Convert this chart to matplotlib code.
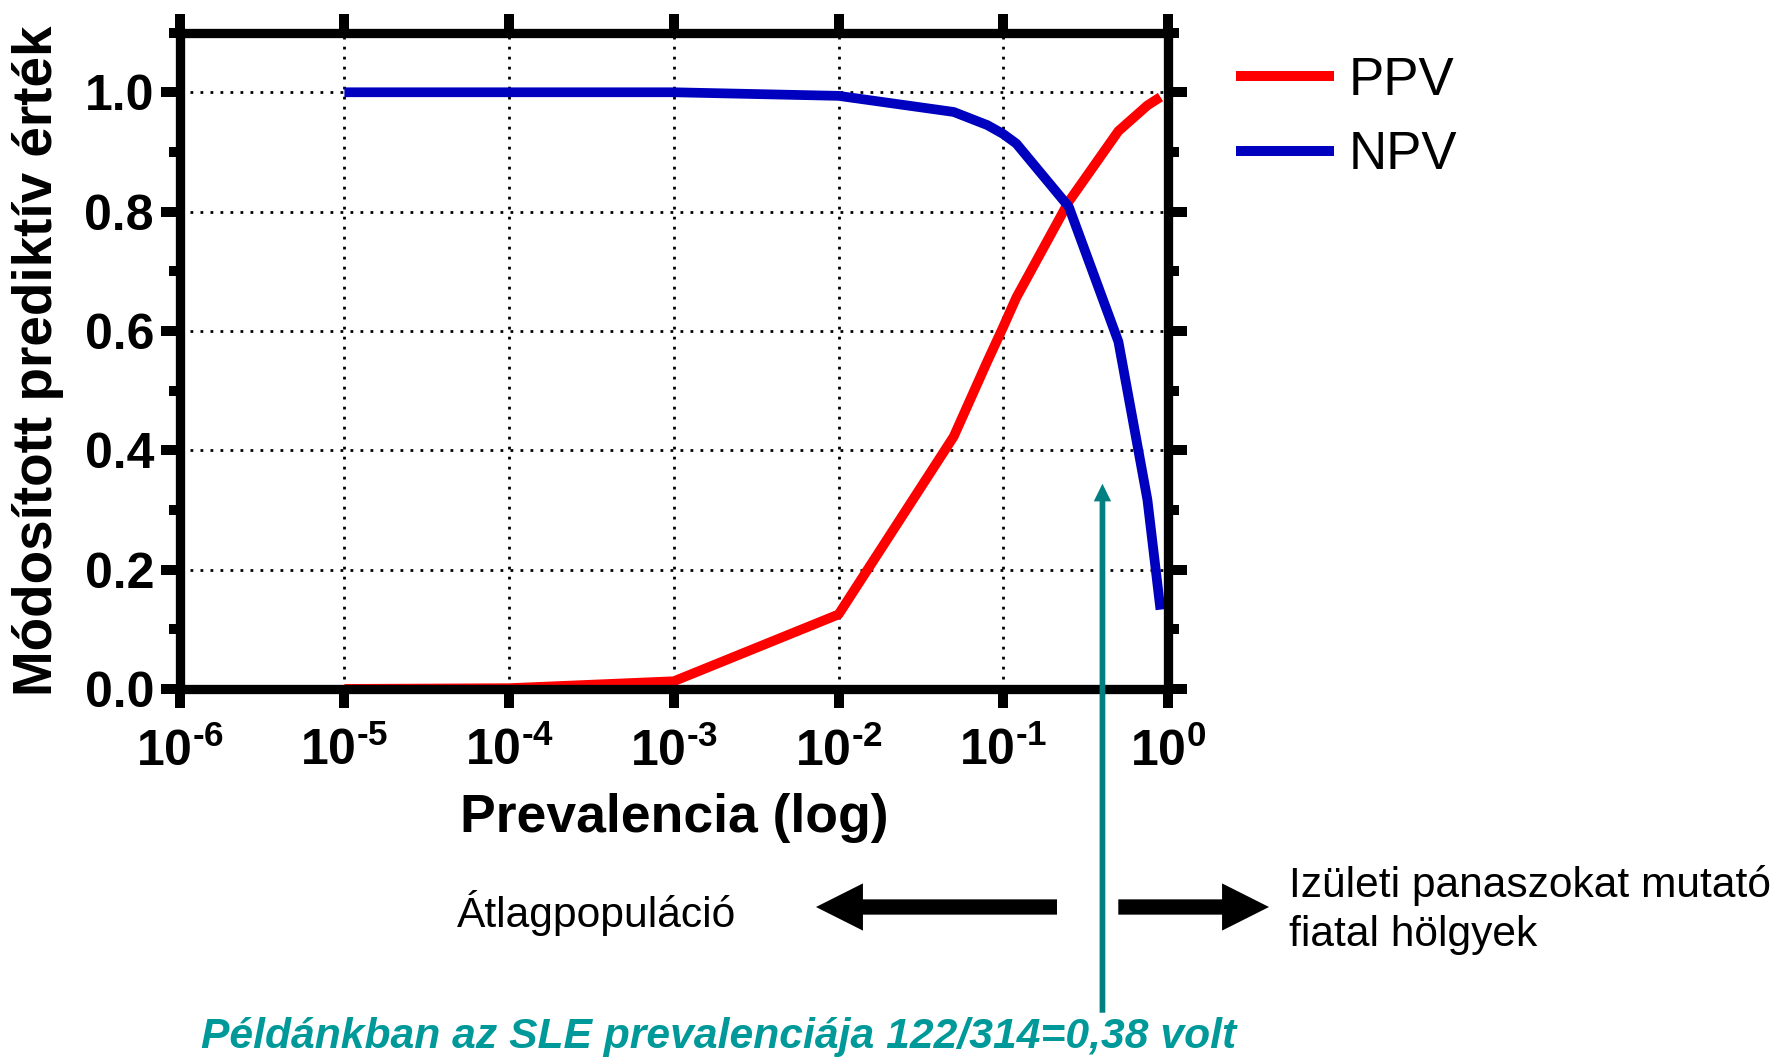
import numpy as np
import matplotlib
matplotlib.use("Agg")
import matplotlib.pyplot as plt
from matplotlib.ticker import MultipleLocator, NullLocator

# ---- adatok ----
prevalencia = [1e-5, 1e-4, 1e-3, 1e-2, 0.05, 0.08, 0.1, 0.12, 0.25, 0.5, 0.75, 0.9]
ppv = [0.0001, 0.0014, 0.013, 0.125, 0.423, 0.549, 0.607, 0.656, 0.817, 0.935, 0.978, 0.992]
npv = [1.0, 1.0, 1.0, 0.994, 0.967, 0.945, 0.930, 0.914, 0.808, 0.582, 0.317, 0.133]

x_ticks = [1e-6, 1e-5, 1e-4, 1e-3, 1e-2, 1e-1, 1e0]
x_tick_labels = [r"$\mathbf{10^{\text{-}6}}$", r"$\mathbf{10^{\text{-}5}}$", r"$\mathbf{10^{\text{-}4}}$",
                 r"$\mathbf{10^{\text{-}3}}$", r"$\mathbf{10^{\text{-}2}}$", r"$\mathbf{10^{\text{-}1}}$",
                 r"$\mathbf{10^{0}}$"]
y_ticks = [0.0, 0.2, 0.4, 0.6, 0.8, 1.0]
y_tick_labels = ["0.0", "0.2", "0.4", "0.6", "0.8", "1.0"]

sle_x = 0.4      # nyíl helye (122/314 = 0,38)
sle_y = 0.344

plt.rcParams["font.family"] = ["Liberation Sans", "DejaVu Sans"]
plt.rcParams["mathtext.fontset"] = "custom"
plt.rcParams["mathtext.bf"] = "Liberation Sans:bold"
plt.rcParams["mathtext.rm"] = "Liberation Sans:bold"

W, H = 1777, 1057
fig = plt.figure(figsize=(W / 100, H / 100), dpi=100)
ax = fig.add_axes([179.7 / W, (H - 689) / H, (1168 - 179.7) / W, (689 - 32.6) / H])

# ---- görbék ----
ax.plot(prevalencia, ppv, color="#ff0000", lw=7, label="PPV", solid_capstyle="butt")
ax.plot(prevalencia, npv, color="#0000bf", lw=7, label="NPV", solid_capstyle="butt")

ax.set_xscale("log")
ax.set_xlim(1e-6, 1)
ax.set_ylim(0, 1.1)
ax.set_xticks(x_ticks)
ax.set_xticklabels(x_tick_labels)
ax.xaxis.set_minor_locator(NullLocator())
ax.set_yticks(y_ticks)
ax.set_yticklabels(y_tick_labels, fontweight="bold")
ax.yaxis.set_minor_locator(MultipleLocator(0.1))

ax.grid(True, which="major", color="black", lw=2, linestyle=(0, (1, 2.6)))
ax.set_axisbelow(True)

for s in ax.spines.values():
    s.set_linewidth(6.7)
ax.tick_params(which="both", direction="out", top=True, right=True, width=7.2)
ax.tick_params(which="major", length=13.5)
ax.tick_params(which="minor", length=8)
ax.tick_params(axis="y", labelsize=36, pad=5)
ax.tick_params(axis="x", labelsize=36, pad=14.5)

ax.set_xlabel("Prevalencia (log)", fontsize=38.5, fontweight="bold", va="center")
ax.xaxis.set_label_coords(0.5, -0.1965)
ax.set_ylabel("Módosított prediktív érték", fontsize=39.5, fontweight="bold", va="center")
ax.yaxis.set_label_coords(-0.1436, 0.5)

leg = ax.legend(loc="upper left", bbox_to_anchor=(1236 / W, (H - 55.6) / H),
                bbox_transform=fig.transFigure, frameon=False, fontsize=38,
                handlelength=1.86, handletextpad=0.28, labelspacing=0.47,
                borderpad=0, borderaxespad=0)
for ln in leg.get_lines():
    ln.set_linewidth(7.2)

# ---- szövegek ----
fig.text(457 / W, (H - 926.7) / H, "Átlagpopuláció", fontsize=30.7, va="baseline")
fig.text(1288.6 / W, (H - 896.7) / H, "Izületi panaszokat mutató", fontsize=30.6, va="baseline")
fig.text(1288.6 / W, (H - 946) / H, "fiatal hölgyek", fontsize=30.6, va="baseline")
fig.text(718.5 / W, (H - 1048.3) / H, "Példánkban az SLE prevalenciája 122/314=0,38 volt",
         fontsize=30.7, fontweight="bold", fontstyle="italic", color="#00999a",
         ha="center", va="baseline")

# ---- nyilak ----
black_arrow = dict(arrowstyle="simple,head_length=33.8,head_width=34,tail_width=11",
                   mutation_scale=1, color="black", lw=0, shrinkA=0, shrinkB=0)
ax.annotate("", xy=(816 / W, (H - 907) / H), xytext=(1057 / W, (H - 907) / H),
            xycoords="figure fraction", textcoords="figure fraction", arrowprops=black_arrow)
ax.annotate("", xy=(1269 / W, (H - 907) / H), xytext=(1118.3 / W, (H - 907) / H),
            xycoords="figure fraction", textcoords="figure fraction", arrowprops=black_arrow)

ax.annotate("", xy=(sle_x, sle_y), xycoords="data",
            xytext=(sle_x, (H - 1012.7) / H), textcoords=("data", "figure fraction"),
            arrowprops=dict(arrowstyle="simple,head_length=12.7,head_width=12.5,tail_width=4.1",
                            mutation_scale=1, color="#008080", lw=0, shrinkA=0, shrinkB=0),
            annotation_clip=False)

plt.savefig("out.png", dpi=100)
